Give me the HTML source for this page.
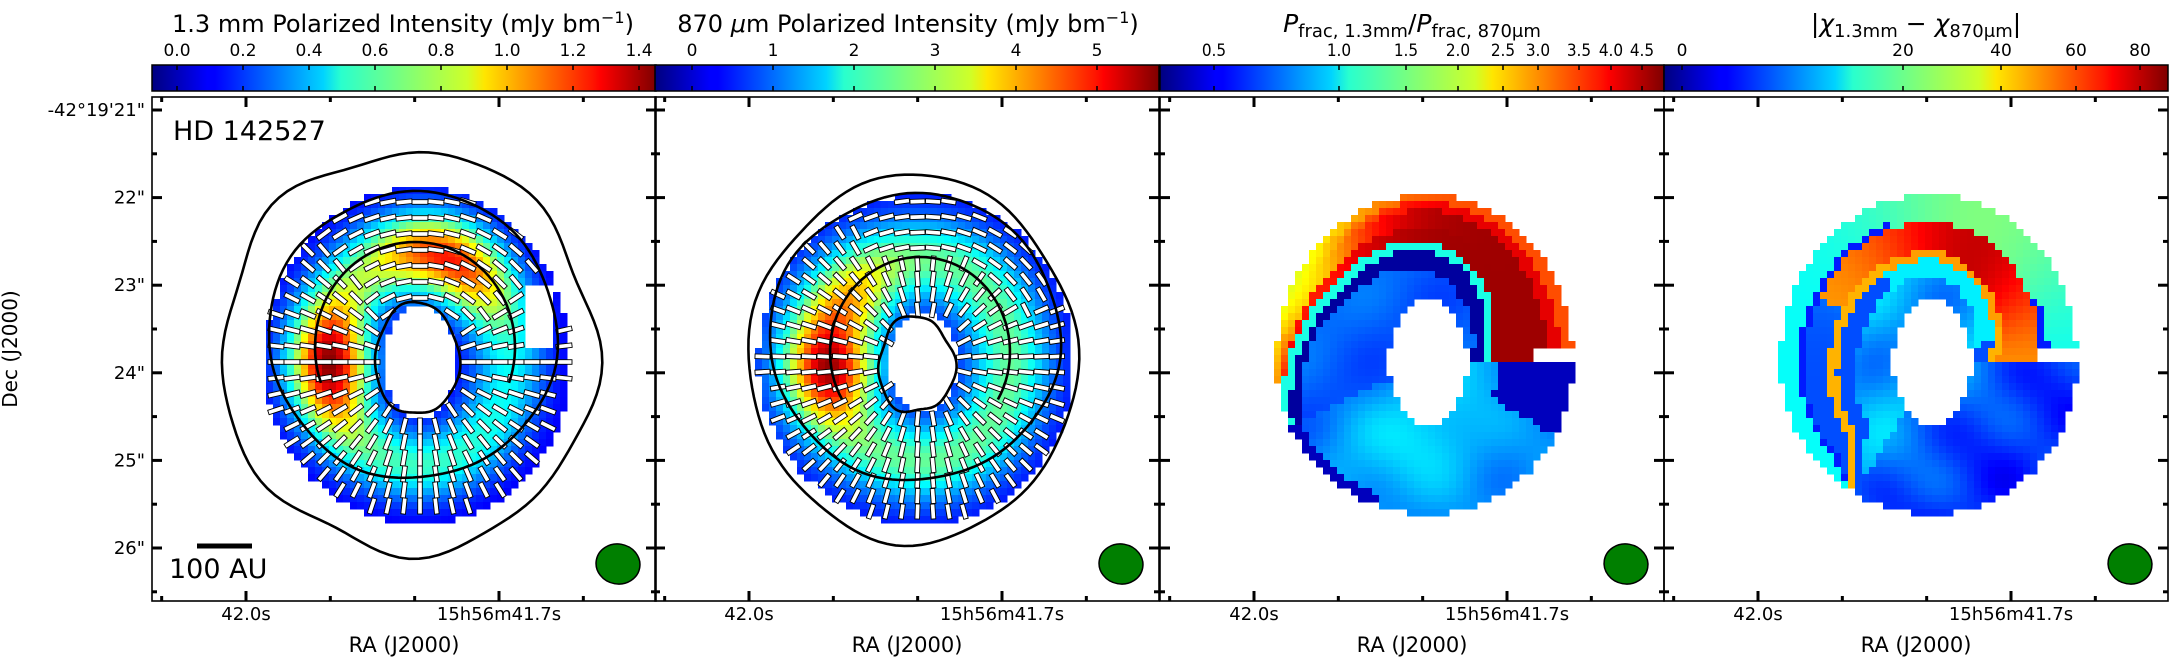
<!DOCTYPE html>
<html><head><meta charset="utf-8"><style>
body{margin:0;background:#fff;}
svg{display:block;font-family:"DejaVu Sans","Liberation Sans",sans-serif;}
</style></head><body>
<svg id="fig" width="2170" height="659" viewBox="0 0 2170 659" xmlns="http://www.w3.org/2000/svg">
<defs>
<linearGradient id="jet" x1="0" x2="1" y1="0" y2="0">
<stop offset="0" stop-color="#00007f"/><stop offset="0.11" stop-color="#0000ff"/><stop offset="0.125" stop-color="#0000ff"/>
<stop offset="0.34" stop-color="#00d4ff"/><stop offset="0.375" stop-color="#29ffce"/><stop offset="0.5" stop-color="#7dff7a"/>
<stop offset="0.625" stop-color="#ceff29"/><stop offset="0.66" stop-color="#ffe600"/><stop offset="0.875" stop-color="#ff1400"/>
<stop offset="0.89" stop-color="#ff0000"/><stop offset="1" stop-color="#7f0000"/>
</linearGradient>
</defs>
<g id="maps"></g>
<g id="vecs"></g>
<g id="conts" fill="none" stroke="#000" stroke-width="2.6"></g>
<g id="beams"></g>
<g id="axes"></g>
<g id="cbars"></g>
<g id="texts" fill="#000"></g>
</svg>
<script>
var cb1Labels=['0.0','0.2','0.4','0.6','0.8','1.0','1.2','1.4'];
var cb1Values=[0,0.2,0.4,0.6,0.8,1.0,1.2,1.4];
var cb2Labels=['0','1','2','3','4','5'];
var cb2Values=[0,1,2,3,4,5];
var cb3Labels=['0.5','1.0','1.5','2.0','2.5','3.0','3.5','4.0','4.5'];
var cb3Values=[0.5,1.0,1.5,2.0,2.5,3.0,3.5,4.0,4.5];
var cb4Labels=['0','20','40','60','80'];
var cb4Values=[0,20,40,60,80];
var yTickLabels=['-42\u00b019\'21"','22"','23"','24"','25"','26"'];
var yTickValues=[21,22,23,24,25,26];
var xTickLabels=['42.0s','15h56m41.7s'];
var xTickValues=[42.0,41.7];

var NS='http://www.w3.org/2000/svg';
function el(tag,attrs,parent){var e=document.createElementNS(NS,tag);for(var k in attrs){e.setAttribute(k,String(attrs[k]));}parent.appendChild(e);return e;}
var PL=[152,655,1160,1664], PW=504, TOP=97, BOT=601, CBT=65, CBB=91;
function cb1X(v){return PL[0]+25+v*330;}
function cb2X(v){return PL[1]+37+v*81;}
var cb3Norm=[[0.5,54],[1.0,179],[1.5,246],[2.0,298],[2.5,343],[3.0,378],[3.5,419],[4.0,451],[4.5,482]];
function interp(tab,v){if(v<=tab[0][0])return tab[0][1];for(var i=0;i<tab.length-1;i++){if(v<=tab[i+1][0]){var a=tab[i],b=tab[i+1];return a[1]+(b[1]-a[1])*(v-a[0])/(b[0]-a[0]);}}return tab[tab.length-1][1];}
function cb3X(v){return PL[2]+interp(cb3Norm,v);}
var cb4Norm=[[0,18],[20,239],[40,337],[60,412],[80,476]];
function cb4X(v){return PL[3]+interp(cb4Norm,v);}
function yPix(arc){return 110+(arc-21)*87.6;}
function xPix(p,s){return PL[p]+94+(42.0-s)/0.3*253;}

function clamp(x){return Math.max(0,Math.min(1,x));}
function jet(t){t=clamp(t);var r=Math.round(255*clamp(1.5-Math.abs(4*t-3))),g=Math.round(255*clamp(1.5-Math.abs(4*t-2))),b=Math.round(255*clamp(1.5-Math.abs(4*t-1)));return 'rgb('+r+','+g+','+b+')';}
function gA(phi,c,w){var d=Math.abs(phi-c)%360;if(d>180)d=360-d;return Math.exp(-(d/w)*(d/w));}
var geoms=[{oL:155,oR:150,oT:175,oB:162,hx:38,hy:55},{oL:165,oR:150,oT:167,oB:162,hx:36,hy:48},{oL:152,oR:145,oT:168,oB:152,hx:40,hy:62},{oL:152,oR:145,oT:168,oB:152,hx:40,hy:62}];
function ringS(dx,dy,g){var th=Math.atan2(dy,dx),c=Math.cos(th),sn=Math.sin(th);var a=dx<0?g.oL:g.oR,b=dy<0?g.oT:g.oB;var Ro=1/Math.sqrt((c/a)*(c/a)+(sn/b)*(sn/b));var Ri=1/Math.sqrt((c/g.hx)*(c/g.hx)+(sn/g.hy)*(sn/g.hy));var r=Math.sqrt(dx*dx+dy*dy);return (r-Ri)/(Ro-Ri);}
var sB3=[[0,0.15],[45,0.33],[90,0.5],[135,0.62],[180,0.85],[205,1.02]];
var sB4=[[0,0.2],[45,0.33],[90,0.42],[135,0.48],[180,0.52],[225,0.6],[240,1.05]];
function valueT(p,dx,dy,s){
  var phi=Math.atan2(-dy,dx)*180/Math.PI;if(phi<0)phi+=360;
  var A,pr,v;
  if(p===0){A=0.4+0.95*gA(phi,180,40)+0.75*gA(phi,75,40)+0.1*gA(phi,270,60);pr=Math.exp(-Math.pow((s-0.45)/0.33,2));v=0.08+A*pr;return (v+0.075)/1.523;}
  if(p===1){A=2.2+3.0*gA(phi,185,30)+1.3*gA(phi,140,30);pr=Math.exp(-Math.pow((s-0.45)/0.35,2));v=0.3+A*pr;return (v+0.457)/6.23;}
  var tex=0.04*Math.sin(dx*0.045+1)*Math.cos(dy*0.05)+0.03*Math.sin((dx+dy)*0.03);
  var sb,u,wN,wW;
  if(p===2){
    if(phi<205){
      sb=interp(sB3,phi);
      if(s>sb+0.04){u=(s-sb)/(1-sb);wW=gA(phi,150,38);
        var tN=u>0.85?0.8:(u>0.7?0.9:0.97);
        var tW=u>0.35?0.6+0.1*(1-u):0.85;
        return (1-wW)*tN+wW*tW;}
      if(s>sb-0.04) return 0.4;
      if(s>sb-0.12-0.12*gA(phi,70,50)) return 0.03;
      return 0.22+tex*0.5;
    }
    if(phi>330&&s>0.3) return 0.06;
    if(phi<250&&s>0.9) return 0.06;
    return 0.28+tex+0.06*Math.exp(-((dx-10)*(dx-10)+(dy-80)*(dy-80))/2500);
  }
  if(phi<240){
    sb=interp(sB4,phi);
    wN=gA(phi,70,45);
    if(s>sb+0.04){u=(s-sb)/(1-sb);
      if(u<0.55) return wN*0.93+(1-wN)*(phi>150?0.2:0.72);
      if(u<0.65&&wN<0.5) return 0.15;
      return wN*0.5+(1-wN)*0.38;}
    if(s>sb-0.04) return wN>0.4?0.72:0.7;
    if(s>sb-0.2) return wN>0.3?0.36:0.2;
    return 0.3+tex;
  }
  return 0.2+tex*1.8;
}
try{
var maps=document.getElementById('maps');
var CELL=7;
for(var p=0;p<4;p++){
  var g=el('g',{'shape-rendering':'crispEdges'},maps);
  
  
  var cx=PL[p]+268, cy=362;
  for(var y=180;y<540;y+=CELL){for(var x=cx-175;x<cx+160;x+=CELL){
    var dx=x+CELL/2-cx, dy=y+CELL/2-cy; var s=ringS(dx,dy,geoms[p]);
    if(s<0||s>1) continue;
    if(p===0&&dx>108&&dx<136&&dy>-78&&dy<-12) continue;
    if(p>=2&&dx>105&&dy>-12&&dy<0) continue;
    el('rect',{x:x,y:y,width:CELL+0.4,height:CELL+0.4,fill:jet(valueT(p,dx,dy,s))},g);
  }}
}
}catch(err){}
try{
var vecs=document.getElementById('vecs');
var vdefs=[[0,16,16],[1,15.5,15]];
for(var vi=0;vi<vdefs.length;vi++){
  var p=vdefs[vi][0],step=vdefs[vi][1],len=vdefs[vi][2];
  var g=el('g',{},vecs);
  
  
  var cx=PL[p]+268, cy=362;
  for(var y=cy-176;y<cy+170;y+=step){for(var x=cx-176;x<cx+160;x+=step){
    var dx=x-cx,dy=y-cy;var s=ringS(dx,dy,geoms[p]);
    if(s<0.03||s>0.97) continue;
    if(p===0&&dx>104&&dx<140&&dy>-82&&dy<-8) continue;
    var phi=Math.atan2(-dy,dx)*180/Math.PI;if(phi<0)phi+=360;
    var ang=Math.atan2(dy,dx)*180/Math.PI;
    if(p===0&&gA(phi,82,55)>0.5) ang+=90;
    if(p===1&&gA(phi,70,55)>0.5&&s>0.55) ang+=90;
    el('rect',{x:-len/2,y:-2.3,width:len,height:4.6,fill:'#fff',stroke:'#000','stroke-width':0.9,transform:'translate('+x+' '+y+') rotate('+ang.toFixed(1)+')'},g);
  }}
}
}catch(err){}
try{
var conts=document.getElementById('conts');
function contour(name,d){var e=el('path',{d:d},conts);}
function wobEllipse(cx,cy,rx,ry,amp,f,ph){var d='';for(var i=0;i<=120;i++){var a=i/120*2*Math.PI;var k=1+amp*Math.sin(f*a+ph)+amp*0.6*Math.sin((f+3)*a+ph*2);d+=(i?'L':'M')+(cx+rx*k*Math.cos(a)).toFixed(1)+' '+(cy+ry*k*Math.sin(a)).toFixed(1);}return d+'Z';}
function arcP(cx,cy,rx,ry,a0,a1){var d='';for(var i=0;i<=60;i++){var a=(a0+(a1-a0)*i/60)*Math.PI/180;d+=(i?'L':'M')+(cx+rx*Math.cos(a)).toFixed(1)+' '+(cy-ry*Math.sin(a)).toFixed(1);}return d;}
var c1=PL[0]+268;
contour('contour-outer-panel-1',wobEllipse(c1-11,352,187,200,0.025,5,0.7));
contour('contour-ring-panel-1',wobEllipse(c1-7,335,144,143,0.01,4,0.2));
contour('contour-hole-panel-1',wobEllipse(c1-3,359,42,56,0.03,3,0.5));
contour('contour-arc-panel-1',arcP(c1-5,347,100,105,-20,200));
var c2=PL[1]+268;
contour('contour-outer-panel-2',wobEllipse(c2-10,359,163,183,0.015,4,1.2));
contour('contour-ring-panel-2',wobEllipse(c2-8,337,145,143,0.01,4,0.3));
contour('contour-hole-panel-2',wobEllipse(c2-7,365,38,48,0.05,3,0.9));
contour('contour-arc-panel-2',arcP(c2-3,352,90,95,-30,210));
}catch(err){}
try{
var beams=document.getElementById('beams');
for(var p=0;p<4;p++){var bx=PL[p]+466;var e=el('ellipse',{cx:bx,cy:564,rx:22,ry:20,fill:'#007f00',stroke:'#000','stroke-width':1.5,transform:'rotate(10 '+bx+' 564)'},beams);

}
}catch(err){}
try{
var axes=document.getElementById('axes');
for(var p=0;p<4;p++){
  var g=el('g',{stroke:'#000'},axes);
  
  
  el('rect',{x:PL[p],y:TOP,width:PW,height:BOT-TOP,fill:'none','stroke-width':1.6},g);
  for(var k=-1;k<=4;k++){var x=xPix(p,42.0-k*0.1);if(x<PL[p]+2||x>PL[p]+PW-2)continue;var L=(k===0||k===3)?10:5;
    el('line',{x1:x,y1:BOT,x2:x,y2:BOT-L,'stroke-width':3},g);el('line',{x1:x,y1:TOP,x2:x,y2:TOP+L,'stroke-width':3},g);}
  for(var a=21;a<=26.5;a+=0.5){var y=yPix(a);var L2=(a%1===0)?10:5;
    el('line',{x1:PL[p],y1:y,x2:PL[p]+L2,y2:y,'stroke-width':3},g);el('line',{x1:PL[p]+PW,y1:y,x2:PL[p]+PW-L2,y2:y,'stroke-width':3},g);}
}
}catch(err){}
var cbDefs=[[cb1Values,cb1X,cb1Labels],[cb2Values,cb2X,cb2Labels],[cb3Values,cb3X,cb3Labels],[cb4Values,cb4X,cb4Labels]];
try{
var cbars=document.getElementById('cbars');
for(var p=0;p<4;p++){
  var r=el('rect',{x:PL[p],y:CBT,width:PW,height:CBB-CBT,fill:'url(#jet)',stroke:'#000','stroke-width':1.5},cbars);
  
  
  for(var i=0;i<cbDefs[p][0].length;i++){var x=cbDefs[p][1](cbDefs[p][0][i]);el('line',{x1:x,y1:CBT,x2:x,y2:CBT+5,stroke:'#000','stroke-width':1.5},cbars);el('line',{x1:x,y1:CBB,x2:x,y2:CBB-5,stroke:'#000','stroke-width':1.5},cbars);}
}
}catch(err){}
var T=document.getElementById('texts');
function txt(s,x,y,size,anchor,name,parent){var e=el('text',{x:x,y:y,'font-size':size,'text-anchor':anchor||'middle'},parent||T);e.textContent=s;return e;}
function span(parent,s,attrs){var t=el('tspan',attrs||{},parent);t.textContent=s;return t;}
try{
for(var p=0;p<4;p++){for(var i=0;i<cbDefs[p][2].length;i++){var x=cbDefs[p][1](cbDefs[p][0][i]);var e=txt(cbDefs[p][2][i],x,56,17,'middle','colorbar-'+(p+1)+'-tick-label');if(p===2){e.setAttribute('transform','translate('+x+' 0) scale(0.9 1) translate('+(-x)+' 0)');}}}
}catch(err){}
try{
var t1=txt('',403,32,24,'middle','colorbar-1-title');
span(t1,'1.3 mm Polarized Intensity (mJy bm');span(t1,'\u22121',{dy:-9,'font-size':16});span(t1,')',{dy:9});
var t2=txt('',908,32,24,'middle','colorbar-2-title');
span(t2,'870 ');span(t2,'\u03bc',{'font-style':'italic'});span(t2,'m Polarized Intensity (mJy bm');span(t2,'\u22121',{dy:-9,'font-size':16});span(t2,')',{dy:9});
var t3=txt('',1412,32,25,'middle','colorbar-3-title');
span(t3,'P',{'font-style':'italic'});span(t3,'frac, 1.3mm',{'font-size':18,dy:5});span(t3,'/',{dy:-5});span(t3,'P',{'font-style':'italic'});span(t3,'frac, 870\u03bcm',{'font-size':18,dy:5});
var t4=txt('',1916,32,25,'middle','colorbar-4-title');
span(t4,'|');span(t4,'\u03c7',{'font-style':'italic'});span(t4,'1.3mm',{'font-size':18,dy:5});span(t4,' \u2212 ',{dy:-5});span(t4,'\u03c7',{'font-style':'italic'});span(t4,'870\u03bcm',{'font-size':18,dy:5});span(t4,'|',{dy:-5});
}catch(err){}
try{
for(var i=0;i<yTickLabels.length;i++){txt(yTickLabels[i],145,yPix(yTickValues[i])+6,18,'end','y-tick-label');}
for(var p=0;p<4;p++){for(var i=0;i<xTickLabels.length;i++){txt(xTickLabels[i],xPix(p,xTickValues[i]),620,18,'middle','x-tick-label');}
txt('RA (J2000)',PL[p]+PW/2,652,21,'middle','x-axis-title');}
var yt=txt('Dec (J2000)',0,0,20,'middle','y-axis-title');yt.setAttribute('transform','translate(17 349) rotate(-90)');
txt('HD 142527',173,140,27,'start','source-name');
txt('100 AU',169,578,27,'start','scale-bar-label');
var sb=el('line',{x1:197,y1:546,x2:252,y2:546,stroke:'#000','stroke-width':5},T);


}catch(err){}
</script>
</body></html>
